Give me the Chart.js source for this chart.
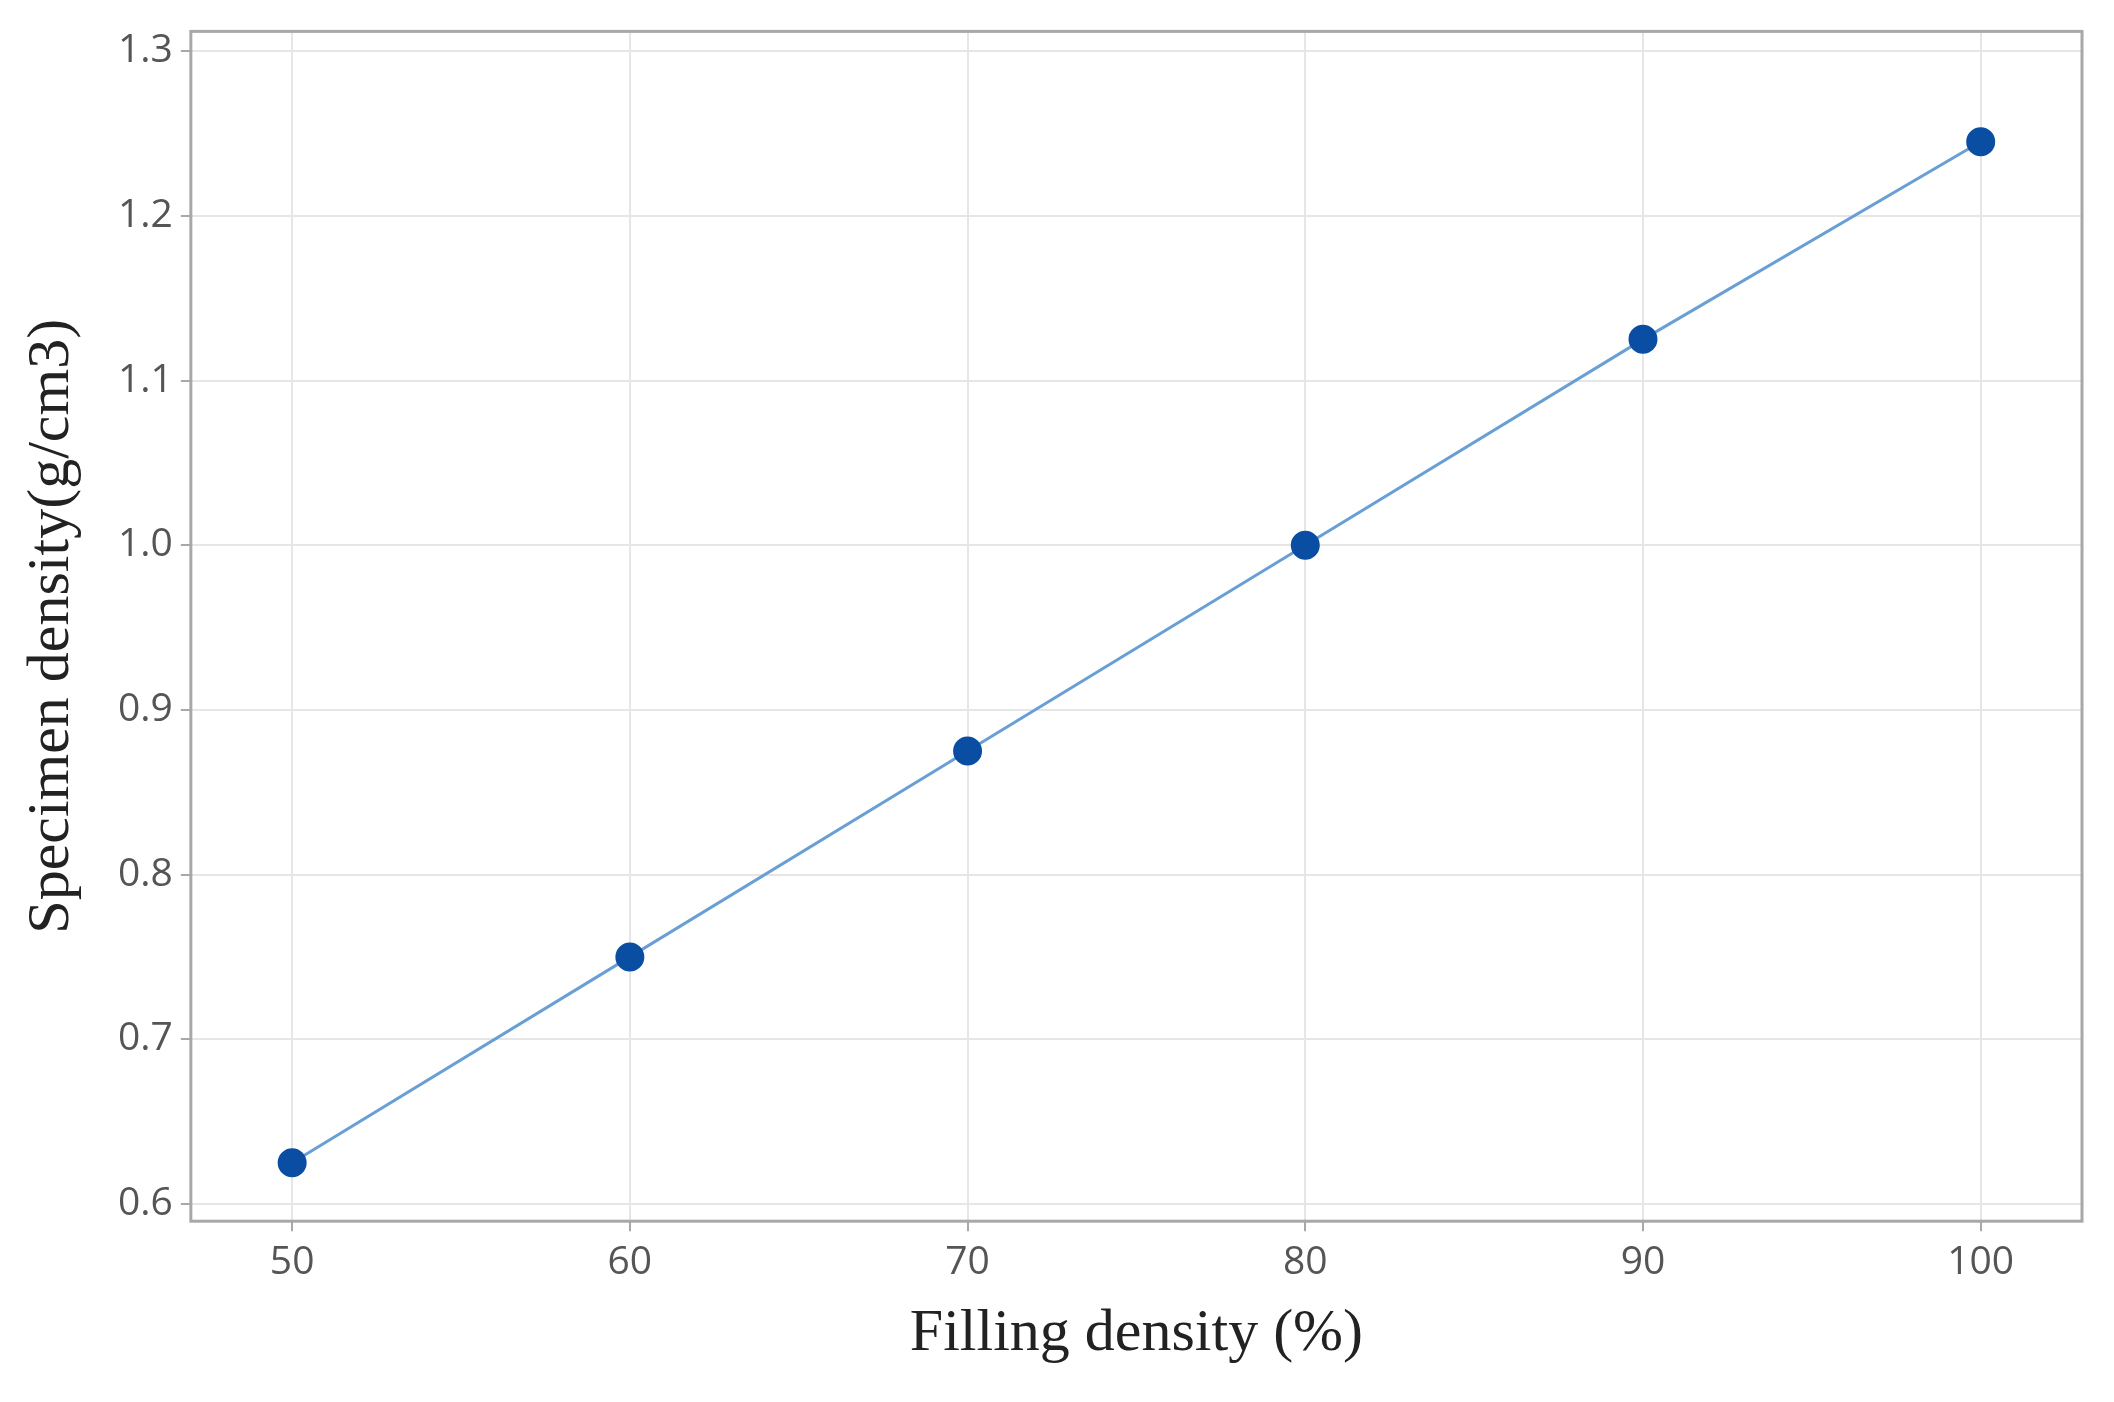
<!DOCTYPE html>
<html>
<head>
<meta charset="utf-8">
<script src="https://cdn.jsdelivr.net/npm/chart.js@4"></script>
<style>
  html, body { margin: 0; padding: 0; background: #fff; }
  #wrap { width: 2114px; height: 1402px; }
</style>
</head>
<body>
<div id="wrap"><canvas id="densityGraph"></canvas></div>
<script>
// values
var fillingDensity = [50, 60, 70, 80, 90, 100];
var specimenDensity = [0.625, 0.75, 0.875, 1.0, 1.125, 1.245];
var xTickValues = [50, 60, 70, 80, 90, 100];
var yTickValues = [0.6, 0.7, 0.8, 0.9, 1.0, 1.1, 1.2, 1.3];

var densityPoints = fillingDensity.map((f, index) => ({x: f, y: specimenDensity[index]}));

// gray frame around the plot area
var frameBox = {
    id: 'frameBox',
    afterDraw: function(chart) {
        var a = chart.chartArea, ctx = chart.ctx;
        ctx.save();
        ctx.strokeStyle = '#a8a8a8';
        ctx.lineWidth = 3;
        ctx.strokeRect(a.left, a.top, a.right - a.left, a.bottom - a.top);
        ctx.restore();
    }
};

var densityChart = new Chart(document.getElementById('densityGraph'), {
    type: 'line',
    data: {
        datasets: [{
            label: 'Specimen density',
            data: densityPoints,
            borderColor: '#6a9fd6',
            borderWidth: 3,
            backgroundColor: '#0a4ea3',
            pointBackgroundColor: '#0a4ea3',
            pointBorderColor: '#0a4ea3',
            pointRadius: 13,
            fill: false,
            tension: 0
        }]
    },
    options: {
        responsive: true,
        maintainAspectRatio: false,
        animation: false,
        layout: {padding: {left: 12, right: 32, top: 28, bottom: 28}},
        plugins: {legend: {display: false}, tooltip: {enabled: false}},
        scales: {
            x: {
                type: 'linear',
                min: 47,
                max: 103,
                afterBuildTicks: function(axis) { axis.ticks = xTickValues.map(v => ({value: v})); },
                grid: {color: '#e6e6e6', lineWidth: 2, drawTicks: true, tickLength: 10, tickColor: '#a8a8a8'},
                border: {display: false},
                ticks: {color: '#555', font: {family: 'Open Sans', size: 39}, padding: 8},
                title: {display: true, text: 'Filling density (%)', color: '#222',
                        font: {family: 'Liberation Serif', size: 60}, padding: {top: 4}}
            },
            y: {
                min: 0.5895,
                max: 1.312,
                afterBuildTicks: function(axis) { axis.ticks = yTickValues.map(v => ({value: v})); },
                grid: {color: '#e6e6e6', lineWidth: 2, drawTicks: true, tickLength: 10, tickColor: '#a8a8a8'},
                border: {display: false},
                ticks: {color: '#555', font: {family: 'Open Sans', size: 39}, padding: 8,
                        callback: function(value) { return value.toFixed(1); }},
                title: {display: true, text: 'Specimen density(g/cm3)', color: '#222',
                        font: {family: 'Liberation Serif', size: 60}, padding: {bottom: 22}}
            }
        }
    },
    plugins: [frameBox]
});
</script>
</body>
</html>
